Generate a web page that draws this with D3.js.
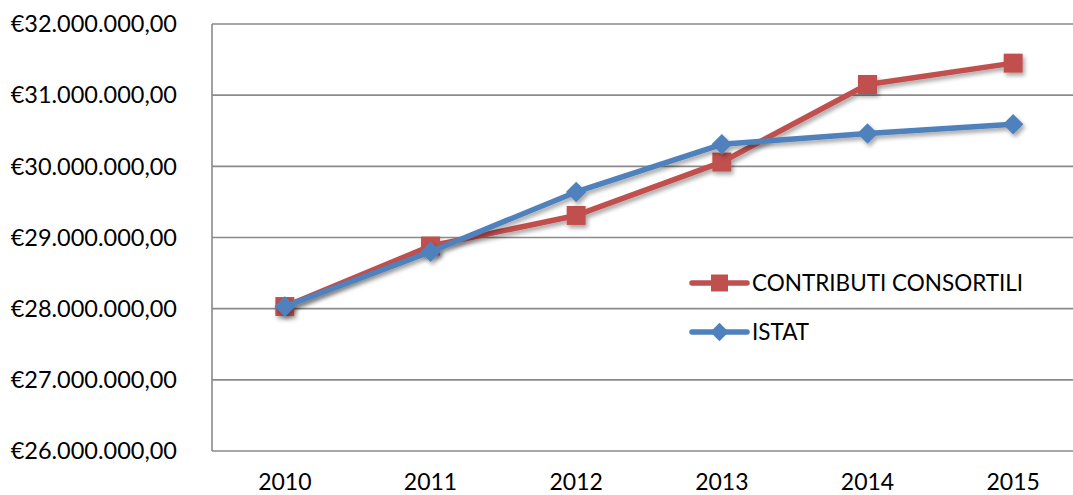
<!DOCTYPE html>
<html lang="it">
<head>
    <meta charset="UTF-8">
    <title>Contributi consortili vs ISTAT</title>
    <script src="https://d3js.org/d3.v7.min.js"></script>
    <style>
        body { margin: 0; padding: 0; background: #fff; }
        svg { display: block; }
        .tick-label { font-family: Lato, "Open Sans", sans-serif; fill: #000; }
        .grid line { stroke: #8a8a8a; stroke-width: 1.6px; }
    </style>
</head>
<body>
<div id="chart"></div>
<script>
    // data
    const years = ["2010", "2011", "2012", "2013", "2014", "2015"];
    const contributi = [28030000, 28880000, 29310000, 30060000, 31150000, 31450000];
    const istat = [28030000, 28800000, 29640000, 30310000, 30460000, 30590000];
    const yTicks = [26000000, 27000000, 28000000, 29000000, 30000000, 31000000, 32000000];
    const seriesNames = ["CONTRIBUTI CONSORTILI", "ISTAT"];

    const width = 1073, height = 495;
    const margin = { top: 24, right: -13, bottom: 44, left: 212 }; // plot runs past the right edge, like the original

    const svg = d3.select("#chart").append("svg")
        .attr("width", width)
        .attr("height", height);

    // soft shadow under the lines
    const defs = svg.append("defs");
    defs.append("filter")
        .attr("id", "shadow")
        .attr("x", "-10%").attr("y", "-10%")
        .attr("width", "130%").attr("height", "150%")
        .append("feDropShadow")
        .attr("dx", 2).attr("dy", 3)
        .attr("stdDeviation", 2)
        .attr("flood-color", "#000")
        .attr("flood-opacity", 0.35);

    const x = d3.scaleBand()
        .domain(years)
        .range([margin.left, width - margin.right]);

    const y = d3.scaleLinear()
        .domain([26000000, 32000000])
        .range([height - margin.bottom, margin.top]);

    const fmt = v => "€" + d3.format(",.2f")(v).replace(/,/g, "#").replace(/\./g, ",").replace(/#/g, ".");

    // gridlines
    svg.append("g")
        .attr("class", "grid")
        .selectAll("line")
        .data(yTicks)
        .join("line")
        .attr("x1", margin.left)
        .attr("x2", width - margin.right)
        .attr("y1", d => y(d))
        .attr("y2", d => y(d));

    // y axis line
    svg.append("line")
        .attr("x1", margin.left).attr("x2", margin.left)
        .attr("y1", y(32000000)).attr("y2", y(26000000))
        .attr("stroke", "#8a8a8a")
        .attr("stroke-width", 1.6);

    // y labels
    svg.append("g")
        .selectAll("text")
        .data(yTicks)
        .join("text")
        .attr("class", "tick-label")
        .attr("x", margin.left - 35)
        .attr("y", d => y(d))
        .attr("dy", "0.35em")
        .attr("text-anchor", "end")
        .style("font-size", "23.5px")
        .text(fmt);

    // x labels
    svg.append("g")
        .selectAll("text")
        .data(years)
        .join("text")
        .attr("class", "tick-label")
        .attr("x", d => x(d) + x.bandwidth() / 2)
        .attr("y", y(26000000) + 31)
        .attr("dy", "0.35em")
        .attr("text-anchor", "middle")
        .style("font-size", "23px")
        .text(d => d);

    const cx = (d, i) => x(years[i]) + x.bandwidth() / 2;
    const line = d3.line().x(cx).y(d => y(d));

    const series = [
        { name: seriesNames[0], values: contributi, color: "#c0504d", size: 360, rotate: 0 },
        { name: seriesNames[1], values: istat, color: "#4f81bd", size: 210, rotate: 45 }
    ];

    series.forEach(s => {
        const g = svg.append("g").attr("filter", "url(#shadow)");
        g.append("path")
            .datum(s.values)
            .attr("d", line)
            .attr("fill", "none")
            .attr("stroke", s.color)
            .attr("stroke-width", 5.5)
            .attr("stroke-linejoin", "round");
        g.selectAll(".pt")
            .data(s.values)
            .join("path")
            .attr("class", "pt")
            .attr("transform", (d, i) => `translate(${cx(d, i)},${y(d)}) rotate(${s.rotate})`)
            .attr("d", d3.symbol().type(d3.symbolSquare).size(s.size))
            .attr("fill", s.color);
    });

    // legend
    const legend = svg.append("g");
    series.forEach((s, i) => {
        const ly = 283 + i * 49;
        legend.append("line")
            .attr("x1", 692).attr("x2", 747)
            .attr("y1", ly).attr("y2", ly)
            .attr("stroke", s.color)
            .attr("stroke-width", 5.5)
            .attr("stroke-linecap", "round");
        legend.append("path")
            .attr("transform", `translate(719.5,${ly}) rotate(${s.rotate})`)
            .attr("d", d3.symbol().type(d3.symbolSquare).size(s.size * 0.8))
            .attr("fill", s.color);
        legend.append("text")
            .attr("class", "tick-label")
            .attr("x", 752)
            .attr("y", ly)
            .attr("dy", "0.35em")
            .style("font-size", "22.5px")
            .text(s.name);
    });
</script>
</body>
</html>
